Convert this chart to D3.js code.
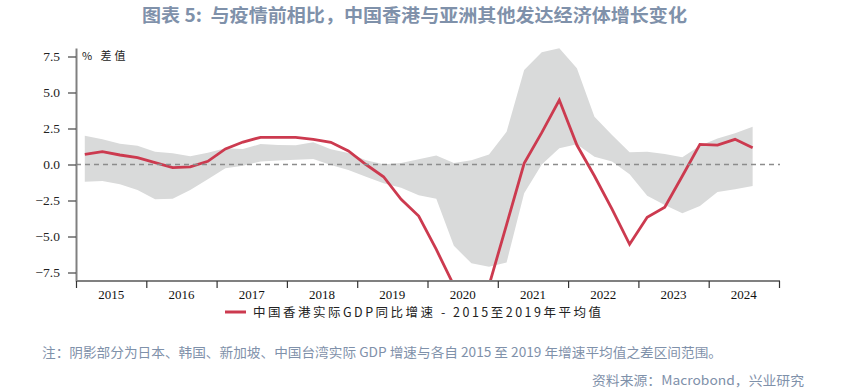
<!DOCTYPE html>
<html><head><meta charset="utf-8">
<script src="https://cdn.jsdelivr.net/npm/d3@7"></script>
<style>
html,body{margin:0;padding:0;background:#fff;}
svg{display:block;}
text{white-space:pre;}
</style></head>
<body>
<svg id="c" width="842" height="392"></svg>
<script>
// ---- data ----
const years = [2015,2016,2017,2018,2019,2020,2021,2022,2023,2024];
const quarters = d3.range(39).map(i => (2015 + Math.floor(i/4)) + "Q" + (i%4+1));
const hkDiff = [0.71,0.89,0.66,0.47, 0.13,-0.22,-0.17,0.22, 1.08,1.56,1.89,1.89, 1.89,1.75,1.54,0.94,
                0.0,-0.85,-2.42,-3.58, -5.9,-8.4,-10.5,-8.4, -4.17,0.08,2.21,4.48, 1.35,-0.8,-3.1,-5.54,
                -3.67,-2.97,-0.8,1.40, 1.35,1.75,1.17];
const bandUpper = [2.0,1.75,1.44,1.31, 0.89,0.78,0.58,0.82, 1.12,1.07,1.42,1.36, 1.33,1.54,1.06,0.8,
                   0.29,0.02,0.1,0.36, 0.63,0.1,0.29,0.7, 2.28,6.56,7.79,8.07, 6.68,3.32,2.05,0.85,
                   0.89,0.73,0.5,1.3, 1.8,2.17,2.63];
const bandLower = [-1.19,-1.15,-1.38,-1.77, -2.42,-2.37,-1.77,-1.03, -0.26,-0.08,0.21,0.28, 0.33,0.38,-0.03,-0.38,
                   -0.85,-1.31,-1.61,-2.14, -2.38,-5.65,-6.86,-7.1, -6.8,-2.0,0.0,1.12, 1.4,0.54,0.21,-0.67,
                   -2.17,-2.81,-3.39,-2.88, -1.91,-1.71,-1.49];
const yTicks = [7.5,5.0,2.5,0.0,-2.5,-5.0,-7.5];
const titleText = "图表 5:  与疫情前相比，中国香港与亚洲其他发达经济体增长变化";
const unitText = "% 差值";
const legendText = "中国香港实际GDP同比增速 - 2015至2019年平均值";
const noteText = "注：阴影部分为日本、韩国、新加坡、中国台湾实际 GDP 增速与各自 2015 至 2019 年增速平均值之差区间范围。";
const sourceText = "资料来源：Macrobond，兴业研究";

// ---- layout ----
const L = 76, R = 780, T = 48, B = 281;
const svg = d3.select("#c");
const x = d3.scaleLinear().domain([2015, 2025]).range([L, 779]);
const y = d3.scaleLinear().domain([-8.09, 8.09]).range([B, T]);
const qx = i => x(2015 + i/4 + 0.125);

const rows = quarters.map((q,i) => ({q, v: hkDiff[i], hi: bandUpper[i], lo: bandLower[i], i}));

svg.append("defs").append("clipPath").attr("id","clip")
  .append("rect").attr("x",L).attr("y",T).attr("width",R-L).attr("height",B-T);

// title
svg.append("text").attr("x",142).attr("y",22)
  .attr("font-family","'Noto Sans CJK SC'").attr("font-weight","bold").attr("font-size",18)
  .attr("fill","#7f91aa").attr("textLength",545).attr("lengthAdjust","spacingAndGlyphs")
  .text(titleText);

const g = svg.append("g").attr("clip-path","url(#clip)");
// band
g.append("path").datum(rows)
  .attr("d", d3.area().x(d=>qx(d.i)).y0(d=>y(d.lo)).y1(d=>y(d.hi)))
  .attr("fill","#d9dada");
// zero line
svg.append("line").attr("x1",L).attr("x2",R).attr("y1",y(0)).attr("y2",y(0))
  .attr("stroke","#8c8c8c").attr("stroke-width",1.5).attr("stroke-dasharray","5,4");
// hk line
g.append("path").datum(rows)
  .attr("d", d3.line().x(d=>qx(d.i)).y(d=>y(d.v)))
  .attr("fill","none").attr("stroke","#cc3a4f").attr("stroke-width",2.8).attr("stroke-linejoin","miter");

// y axis
const yAx = svg.append("g").attr("transform",`translate(${L},0)`)
  .call(d3.axisLeft(y).tickValues(yTicks).tickFormat(d3.format(".1f")).tickSize(8).tickPadding(8).tickSizeOuter(0));
yAx.select(".domain").attr("stroke","#808080").attr("stroke-width",2);
yAx.selectAll(".tick line").attr("stroke","#444").attr("stroke-width",1.2);
yAx.selectAll(".tick text").attr("font-family","'Liberation Serif'").attr("font-size",13.5).attr("fill","#222");

// x axis
const xAx = svg.append("g").attr("transform",`translate(0,${B})`)
  .call(d3.axisBottom(x).tickValues(d3.range(2015,2026)).tickFormat("").tickSize(7).tickSizeOuter(0));
xAx.select(".domain").attr("stroke","#808080").attr("stroke-width",2.2).attr("d",`M${L},0H${R}`);
xAx.selectAll(".tick line").attr("stroke","#333").attr("stroke-width",1.2);
svg.append("g").selectAll("text").data(years).join("text")
  .attr("x", d => x(d+0.5)).attr("y", 299).attr("text-anchor","middle")
  .attr("font-family","'Liberation Serif'").attr("font-size",13).attr("fill","#111")
  .text(d => d);

// unit label
svg.append("text").attr("x",82).attr("y",60)
  .attr("font-family","'Noto Sans CJK SC'").attr("font-size",11).attr("fill","#222")
  .attr("letter-spacing","3px").text(unitText);

// legend
svg.append("line").attr("x1",225).attr("x2",246).attr("y1",312).attr("y2",312)
  .attr("stroke","#cc3a4f").attr("stroke-width",3);
svg.append("text").attr("x",253).attr("y",317)
  .attr("font-family","'Noto Sans CJK SC'").attr("font-size",12.5).attr("fill","#222")
  .attr("textLength",348).attr("lengthAdjust","spacing").text(legendText);

// notes
svg.append("text").attr("x",42).attr("y",357)
  .attr("font-family","'Noto Sans CJK SC'").attr("font-size",13).attr("fill","#7f91aa")
  .attr("textLength",680).attr("lengthAdjust","spacingAndGlyphs").text(noteText);
svg.append("text").attr("x",592).attr("y",385)
  .attr("font-family","'Noto Sans CJK SC'").attr("font-size",13).attr("fill","#7f91aa")
  .attr("textLength",212).attr("lengthAdjust","spacingAndGlyphs").text(sourceText);
</script>
</body></html>
